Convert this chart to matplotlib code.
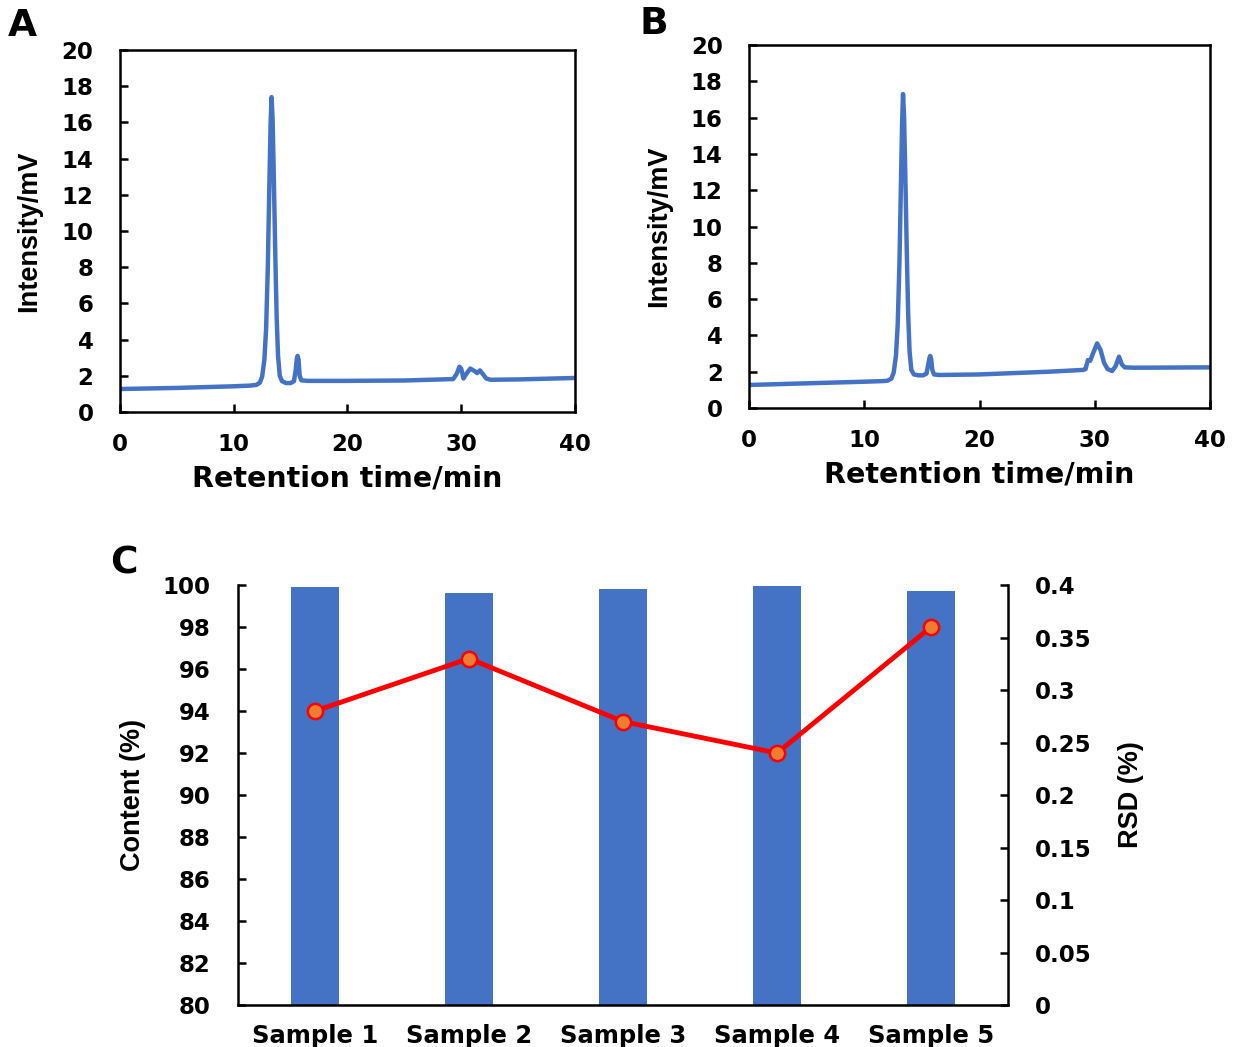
import numpy as np
import matplotlib.pyplot as plt
import matplotlib as mpl

# ---- chromatogram A (retention time in min, intensity in mV) ----
time_a = [0, 5, 10, 11.5, 12.0, 12.3, 12.5, 12.7, 12.85, 13.0, 13.12, 13.24, 13.33, 13.42,
          13.54, 13.66, 13.78, 13.9, 14.05, 14.25, 14.6, 15.0, 15.3, 15.45, 15.55, 15.62,
          15.7, 15.8, 15.95, 16.5, 20, 25, 29.3, 29.6, 29.85, 30.0, 30.2, 30.5, 30.8,
          31.2, 31.4, 31.65, 31.9, 32.2, 32.6, 35, 40]
signal_a = [1.27, 1.33, 1.42, 1.46, 1.50, 1.62, 1.95, 2.9, 4.6, 8.0, 12.0, 15.8, 17.4, 16.2,
            12.6, 8.6, 5.2, 3.1, 2.0, 1.7, 1.6, 1.6, 1.7, 2.3, 2.95, 3.1,
            2.9, 2.0, 1.75, 1.72, 1.72, 1.74, 1.82, 2.1, 2.5, 2.4, 1.85, 2.15, 2.4,
            2.25, 2.15, 2.3, 2.1, 1.85, 1.78, 1.8, 1.88]

# ---- chromatogram B ----
time_b = [0, 5, 10, 11.5, 12.0, 12.35, 12.55, 12.75, 12.9, 13.05, 13.17, 13.28, 13.36, 13.45,
          13.57, 13.69, 13.81, 13.93, 14.08, 14.3, 14.7, 15.1, 15.4, 15.55, 15.65, 15.72,
          15.8, 15.9, 16.05, 16.5, 20, 26, 29.0, 29.2, 29.4, 29.6, 29.9, 30.2, 30.5,
          30.8, 31.1, 31.5, 31.8, 32.1, 32.35, 32.6, 33.5, 40]
signal_b = [1.27, 1.36, 1.45, 1.48, 1.50, 1.62, 1.95, 2.9, 4.6, 8.0, 12.0, 15.7, 17.3, 16.1,
            12.5, 8.5, 5.1, 3.1, 2.1, 1.85, 1.8, 1.8, 1.9, 2.4, 2.75, 2.87,
            2.7, 2.1, 1.85, 1.82, 1.85, 2.0, 2.1, 2.15, 2.64, 2.6, 3.1, 3.56, 3.2,
            2.5, 2.15, 2.04, 2.3, 2.83, 2.4, 2.24, 2.22, 2.24]

# ---- panel C ----
samples = ["Sample 1", "Sample 2", "Sample 3", "Sample 4", "Sample 5"]
content = [99.92, 99.62, 99.81, 99.97, 99.71]
rsd = [0.28, 0.33, 0.27, 0.24, 0.36]

BLUE = "#4472C4"
mpl.rcParams.update({
    "font.family": "DejaVu Sans",
    "font.weight": "bold",
    "axes.labelweight": "bold",
    "axes.linewidth": 1.8,
    "xtick.direction": "in", "ytick.direction": "in",
    "xtick.major.size": 6, "ytick.major.size": 6,
    "xtick.major.width": 1.8, "ytick.major.width": 1.8,
    "xtick.labelsize": 16.5, "ytick.labelsize": 16.5,
})

# vertical axis titles look taller / narrower than the rest of the text
ylab_font = dict(family="Liberation Sans", fontsize=19.5, fontweight="bold")

fig = plt.figure(figsize=(12.34, 10.47), dpi=100)


def chromatogram(rect, t, s, letter, letter_xy, ypad):
    ax = fig.add_axes(rect)
    ax.plot(t, s, color=BLUE, lw=3.2, solid_capstyle="round", solid_joinstyle="round")
    ax.set_xlim(0, 40)
    ax.set_ylim(0, 20)
    ax.set_xticks([0, 10, 20, 30, 40])
    ax.set_yticks(range(0, 21, 2))
    ax.tick_params(axis="y", pad=19)
    ax.tick_params(axis="x", pad=15)
    ax.set_xlabel("Retention time/min", fontsize=20.5, labelpad=6)
    ax.set_ylabel("Intensity/mV", labelpad=ypad, **ylab_font)
    fig.text(letter_xy[0], letter_xy[1], letter, fontsize=27, fontweight="bold",
             ha="left", va="top")
    return ax


ax_a = chromatogram([0.0972, 0.6065, 0.3687, 0.3457], time_a, signal_a, "A", (0.006, 0.992), 14)
ax_b = chromatogram([0.607, 0.6103, 0.3736, 0.3467], time_b, signal_b, "B", (0.518, 0.994), 13)

# ---- panel C: content bars + RSD line ----
ax_c = fig.add_axes([0.1929, 0.0401, 0.624, 0.4011])
x = np.arange(len(samples))
ax_c.bar(x, [c - 80 for c in content], bottom=80, width=0.31, color=BLUE, zorder=1)
ax_c.set_xlim(-0.5, len(samples) - 0.5)
ax_c.set_ylim(80, 100)
ax_c.set_yticks(range(80, 101, 2))
ax_c.set_xticks(x)
ax_c.set_xticklabels(samples, fontsize=17.5)
ax_c.tick_params(axis="x", length=0, pad=14)
ax_c.tick_params(axis="y", pad=20)
ax_c.spines["top"].set_visible(False)
ax_c.spines["right"].set_visible(False)
ax_c.set_ylabel("Content (%)", labelpad=12, **ylab_font)

ax_r = ax_c.twinx()
ax_r.plot(x, rsd, color="#FF0000", lw=3.5, marker="o", markersize=11,
          markerfacecolor="#ED7D31", markeredgecolor="#FF0000", markeredgewidth=1.8, zorder=3)
ax_r.set_ylim(0, 0.4)
ax_r.set_yticks([0, 0.05, 0.1, 0.15, 0.2, 0.25, 0.3, 0.35, 0.4])
ax_r.set_yticklabels(["0", "0.05", "0.1", "0.15", "0.2", "0.25", "0.3", "0.35", "0.4"])
ax_r.tick_params(axis="y", pad=19)
ax_r.spines["top"].set_visible(False)
ax_r.spines["left"].set_visible(False)
ax_r.spines["bottom"].set_visible(False)
ax_r.set_ylabel("RSD (%)", labelpad=19, **ylab_font)

fig.text(0.089, 0.479, "C", fontsize=27, fontweight="bold", ha="left", va="top")

fig.savefig("out.png", dpi=100)
